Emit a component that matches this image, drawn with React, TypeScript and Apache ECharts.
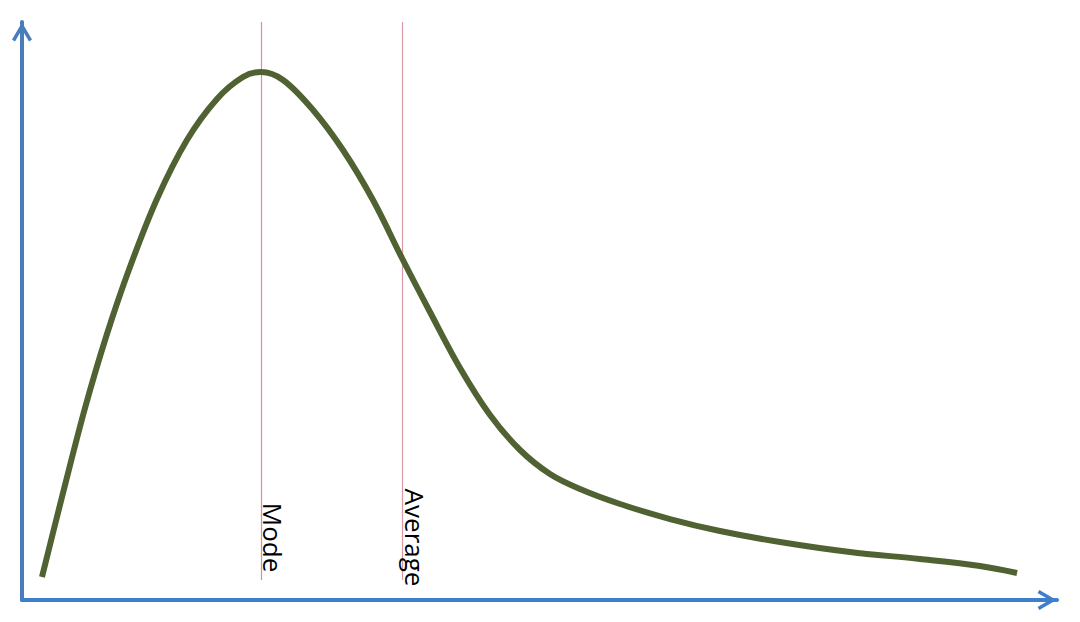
import React, { useEffect, useRef } from "react";
import * as echarts from "echarts";

// Curve samples (x: position along horizontal axis 0..100, y: height 0..100)
const curveX = [1.93, 3.96, 6.09, 8.21, 10.43, 13.04, 15.94, 18.84, 21.35, 23.09, 25.22, 28.12, 31.01, 33.91, 36.71, 39.42, 42.32, 45.22, 48.12, 51.01, 53.91, 57.78, 62.61, 67.44, 73.24, 80.0, 86.76, 92.56, 96.14];
const curveY = [3.98, 18.51, 33.22, 46.02, 57.61, 69.38, 79.58, 86.68, 90.48, 91.35, 89.97, 84.78, 77.85, 69.2, 59.17, 49.83, 40.14, 32.01, 25.95, 21.8, 19.2, 16.61, 14.01, 11.94, 10.03, 8.3, 7.09, 5.88, 4.67];

// Reference lines
const refNames = ["Mode", "Average"];
const refX = [23.09, 36.71];
const refColors = ["#e8869d", "#d99aa8"];
const refTop = 100;
const refBottom = 3.46;
const labelY = 10.81;

const chevron = "path://M10,0 L20,17 L17,18.8 L10,6.9 L3,18.8 L0,17 Z";

export default function App() {
  const ref = useRef<HTMLDivElement>(null);

  useEffect(() => {
    if (!ref.current) return;
    const chart = echarts.init(ref.current, undefined, { renderer: "svg" });
    const data = curveX.map((x, i) => [x, curveY[i]]);
    const axisCommon = {
      type: "value" as const,
      min: 0,
      max: 100,
      axisTick: { show: false },
      axisLabel: { show: false },
      splitLine: { show: false },
    };
    chart.setOption({
      animation: false,
      backgroundColor: "#ffffff",
      grid: { left: 22, right: 23, top: 22, bottom: 22, containLabel: false },
      xAxis: {
        ...axisCommon,
        axisLine: {
          show: true,
          symbol: ["none", chevron],
          symbolSize: [20, 19],
          symbolOffset: [0, -10],
          lineStyle: { color: "#3d7fca", width: 4 },
        },
      },
      yAxis: {
        ...axisCommon,
        axisLine: {
          show: true,
          symbol: ["none", chevron],
          symbolSize: [20, 19],
          symbolOffset: [0, -10],
          lineStyle: { color: "#4a7ebb", width: 4 },
        },
      },
      series: [
        {
          type: "line",
          data,
          smooth: 0.35,
          showSymbol: false,
          symbol: "none",
          silent: true,
          z: 3,
          lineStyle: { color: "#506132", width: 6, cap: "butt" },
          markLine: {
            silent: true,
            symbol: ["none", "none"],
            label: { show: false },
            z: 2,
            data: refX.map((x, i) => [
              { coord: [x, refTop], lineStyle: { color: refColors[i], width: 1.2, type: "solid" } },
              { coord: [x, refBottom] },
            ]),
          },
          markPoint: {
            silent: true,
            symbol: "rect",
            symbolSize: 1,
            itemStyle: { color: "rgba(0,0,0,0)" },
            data: refNames.map((name, i) => ({
              name,
              coord: [refX[i], labelY],
              label: {
                show: true,
                formatter: "{b}",
                position: "inside",
                rotate: -90,
                offset: [0, i === 0 ? -12 : -13.5],
                color: "#000000",
                fontFamily: "Open Sans",
                fontSize: 26,
              },
            })),
          },
        },
      ],
    });
    return () => chart.dispose();
  }, []);

  return (
    <div
      ref={ref}
      style={{ position: "fixed", left: 0, top: 0, width: 1080, height: 622, background: "#fff" }}
    />
  );
}
